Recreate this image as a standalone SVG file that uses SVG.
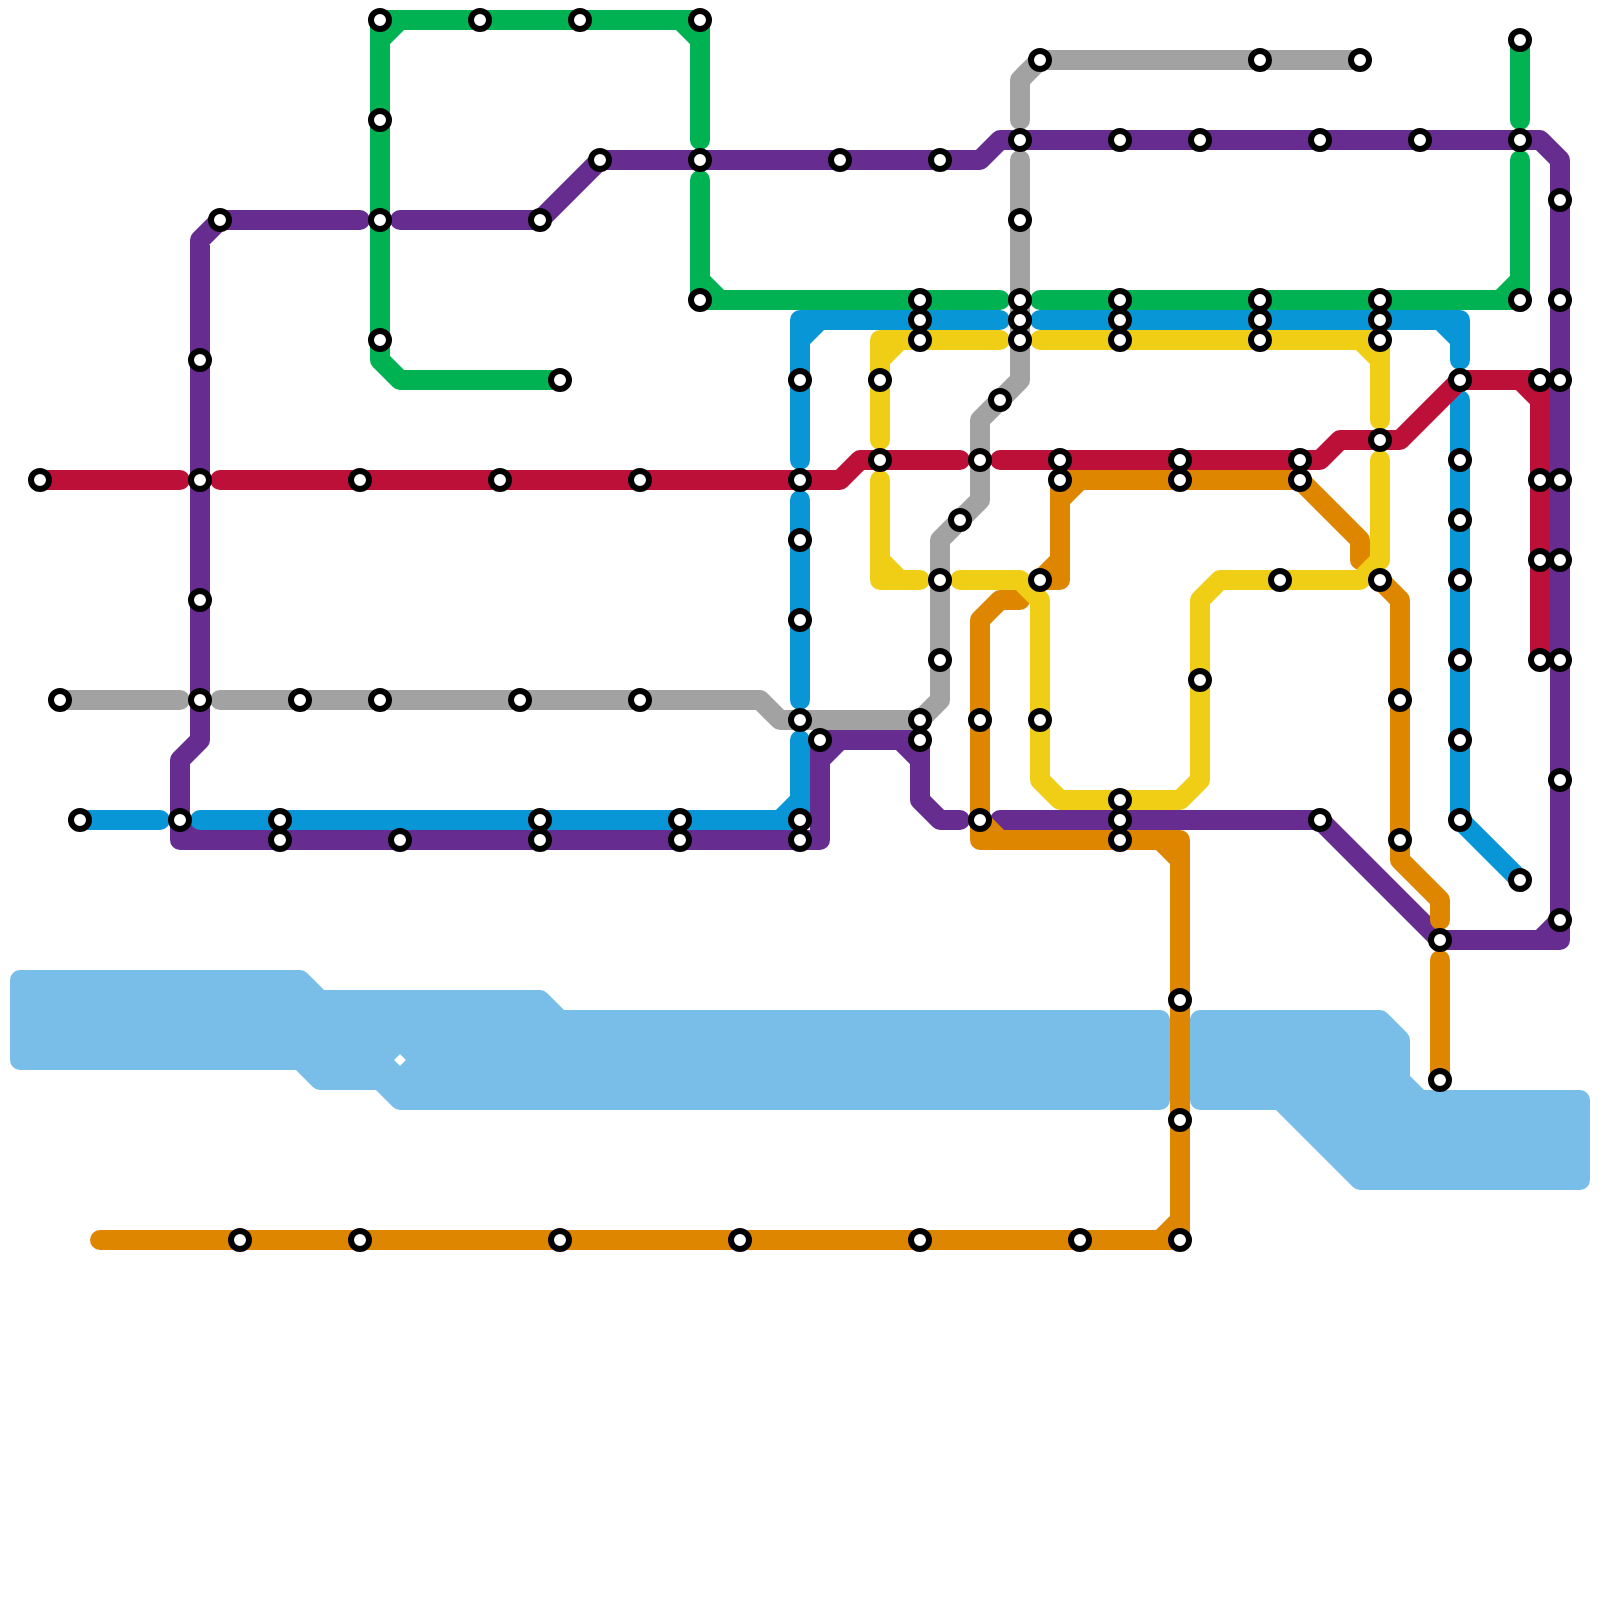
<svg xmlns="http://www.w3.org/2000/svg" width="1600" height="1600" viewBox="0 0 1600 1600">
<style>
.w{fill:#79bde9;stroke:#79bde9;stroke-width:20;stroke-linejoin:round;fill-rule:evenodd}
.l{fill:none;stroke-width:20;stroke-linecap:round;stroke-linejoin:round}
.pu{stroke:#662c90}.or{stroke:#df8600}.bl{stroke:#0896d7}.re{stroke:#bd1038}.ye{stroke:#f0ce15}.gn{stroke:#00b251}.gy{stroke:#a2a2a2}
.s{fill:#fff;stroke:#000;stroke-width:6}
</style>
<rect width="1600" height="1600" fill="#fff"/>
<g id="water">
<path class="w" d="M20,980H300L320,1000H540L560,1020H1160V1100H400L380,1080H320L300,1060H20ZM400,1040L420,1060L400,1080L380,1060Z"/>
<path class="w" d="M1200,1020H1380L1400,1040V1080L1420,1100H1580V1180H1360L1280,1100H1200Z"/>
</g>
<g id="connectors">
<g id="line-purple" class="l pu">
<path d="M360,220H220L200,240V740L180,760V840H820V740H920V800L940,820H960M820,760L840,740M900,740L920,760M180,820L200,840"/>
<path d="M400,220H540L600,160H980L1000,140H1540L1560,160V940H1440L1320,820H1000M1540,940L1560,920"/>
</g>
<g id="line-orange" class="l or">
<path d="M100,1240H1180V840H980V620L1000,600H1020M1160,1240L1180,1220M1160,840L1180,860M980,820L1000,840"/>
<path d="M1300,480H1060V580H1040L1060,560M1060,500L1080,480M1300,480L1360,540V560"/>
<path d="M1380,580L1400,600V860L1440,900V920"/>
<path d="M1440,960V1080"/>
</g>
<g id="line-blue" class="l bl">
<path d="M800,460V320H1000M800,340L820,320"/>
<path d="M1040,320H1460V360M1440,320L1460,340"/>
<path d="M1460,400V820L1520,880"/>
<path d="M800,500V700"/>
<path d="M800,740V820H200M780,820L800,800"/>
<path d="M80,820H160"/>
</g>
<g id="line-red" class="l re">
<path d="M40,480H180"/>
<path d="M220,480H840L860,460H960"/>
<path d="M1000,460H1320L1340,440H1400L1460,380H1540V660M1520,380L1540,400"/>
</g>
<g id="line-yellow" class="l ye">
<path d="M880,440V340H1000M880,360L900,340"/>
<path d="M880,480V580H920M880,560L900,580"/>
<path d="M960,580H1020L1040,600V780L1060,800H1180L1200,780V600L1220,580H1360L1380,560V460"/>
<path d="M1380,420V340H1040M1360,340L1380,360"/>
</g>
<g id="line-green" class="l gn">
<path d="M700,140V20H380V360L400,380H560M380,40L400,20M680,20L700,40"/>
<path d="M700,180V300H1000M700,280L720,300"/>
<path d="M1040,300H1520V160M1500,300L1520,280"/>
<path d="M1520,40V120"/>
</g>
<g id="line-gray" class="l gy">
<path d="M60,700H180"/>
<path d="M220,700H760L780,720H920L940,700V540L960,520L980,500V420L1020,380V160"/>
<path d="M1020,120V80L1040,60H1360"/>
</g>
</g>
<g id="stations">
<g id="s1"><circle class="s" cx="40" cy="480" r="9"/></g>
<g id="s2"><circle class="s" cx="60" cy="700" r="9"/></g>
<g id="s3"><circle class="s" cx="80" cy="820" r="9"/></g>
<g id="s4"><circle class="s" cx="180" cy="820" r="9"/></g>
<g id="s5"><circle class="s" cx="200" cy="360" r="9"/></g>
<g id="s6"><circle class="s" cx="200" cy="480" r="9"/></g>
<g id="s7"><circle class="s" cx="200" cy="600" r="9"/></g>
<g id="s8"><circle class="s" cx="200" cy="700" r="9"/></g>
<g id="s9"><circle class="s" cx="220" cy="220" r="9"/></g>
<g id="s10"><circle class="s" cx="240" cy="1240" r="9"/></g>
<g id="s11"><circle class="s" cx="280" cy="820" r="9"/></g>
<g id="s12"><circle class="s" cx="280" cy="840" r="9"/></g>
<g id="s13"><circle class="s" cx="300" cy="700" r="9"/></g>
<g id="s14"><circle class="s" cx="360" cy="480" r="9"/></g>
<g id="s15"><circle class="s" cx="360" cy="1240" r="9"/></g>
<g id="s16"><circle class="s" cx="380" cy="20" r="9"/></g>
<g id="s17"><circle class="s" cx="380" cy="120" r="9"/></g>
<g id="s18"><circle class="s" cx="380" cy="220" r="9"/></g>
<g id="s19"><circle class="s" cx="380" cy="340" r="9"/></g>
<g id="s20"><circle class="s" cx="380" cy="700" r="9"/></g>
<g id="s21"><circle class="s" cx="400" cy="840" r="9"/></g>
<g id="s22"><circle class="s" cx="480" cy="20" r="9"/></g>
<g id="s23"><circle class="s" cx="500" cy="480" r="9"/></g>
<g id="s24"><circle class="s" cx="520" cy="700" r="9"/></g>
<g id="s25"><circle class="s" cx="540" cy="220" r="9"/></g>
<g id="s26"><circle class="s" cx="540" cy="820" r="9"/></g>
<g id="s27"><circle class="s" cx="540" cy="840" r="9"/></g>
<g id="s28"><circle class="s" cx="560" cy="380" r="9"/></g>
<g id="s29"><circle class="s" cx="560" cy="1240" r="9"/></g>
<g id="s30"><circle class="s" cx="580" cy="20" r="9"/></g>
<g id="s31"><circle class="s" cx="600" cy="160" r="9"/></g>
<g id="s32"><circle class="s" cx="640" cy="480" r="9"/></g>
<g id="s33"><circle class="s" cx="640" cy="700" r="9"/></g>
<g id="s34"><circle class="s" cx="680" cy="820" r="9"/></g>
<g id="s35"><circle class="s" cx="680" cy="840" r="9"/></g>
<g id="s36"><circle class="s" cx="700" cy="20" r="9"/></g>
<g id="s37"><circle class="s" cx="700" cy="160" r="9"/></g>
<g id="s38"><circle class="s" cx="700" cy="300" r="9"/></g>
<g id="s39"><circle class="s" cx="740" cy="1240" r="9"/></g>
<g id="s40"><circle class="s" cx="800" cy="380" r="9"/></g>
<g id="s41"><circle class="s" cx="800" cy="480" r="9"/></g>
<g id="s42"><circle class="s" cx="800" cy="540" r="9"/></g>
<g id="s43"><circle class="s" cx="800" cy="620" r="9"/></g>
<g id="s44"><circle class="s" cx="800" cy="720" r="9"/></g>
<g id="s45"><circle class="s" cx="800" cy="820" r="9"/></g>
<g id="s46"><circle class="s" cx="800" cy="840" r="9"/></g>
<g id="s47"><circle class="s" cx="820" cy="740" r="9"/></g>
<g id="s48"><circle class="s" cx="840" cy="160" r="9"/></g>
<g id="s49"><circle class="s" cx="880" cy="380" r="9"/></g>
<g id="s50"><circle class="s" cx="880" cy="460" r="9"/></g>
<g id="s51"><circle class="s" cx="920" cy="300" r="9"/></g>
<g id="s52"><circle class="s" cx="920" cy="320" r="9"/></g>
<g id="s53"><circle class="s" cx="920" cy="340" r="9"/></g>
<g id="s54"><circle class="s" cx="920" cy="720" r="9"/></g>
<g id="s55"><circle class="s" cx="920" cy="740" r="9"/></g>
<g id="s56"><circle class="s" cx="920" cy="1240" r="9"/></g>
<g id="s57"><circle class="s" cx="940" cy="160" r="9"/></g>
<g id="s58"><circle class="s" cx="940" cy="580" r="9"/></g>
<g id="s59"><circle class="s" cx="940" cy="660" r="9"/></g>
<g id="s60"><circle class="s" cx="960" cy="520" r="9"/></g>
<g id="s61"><circle class="s" cx="980" cy="460" r="9"/></g>
<g id="s62"><circle class="s" cx="980" cy="720" r="9"/></g>
<g id="s63"><circle class="s" cx="980" cy="820" r="9"/></g>
<g id="s64"><circle class="s" cx="1000" cy="400" r="9"/></g>
<g id="s65"><circle class="s" cx="1020" cy="140" r="9"/></g>
<g id="s66"><circle class="s" cx="1020" cy="220" r="9"/></g>
<g id="s67"><circle class="s" cx="1020" cy="300" r="9"/></g>
<g id="s68"><circle class="s" cx="1020" cy="320" r="9"/></g>
<g id="s69"><circle class="s" cx="1020" cy="340" r="9"/></g>
<g id="s70"><circle class="s" cx="1040" cy="60" r="9"/></g>
<g id="s71"><circle class="s" cx="1040" cy="580" r="9"/></g>
<g id="s72"><circle class="s" cx="1040" cy="720" r="9"/></g>
<g id="s73"><circle class="s" cx="1060" cy="460" r="9"/></g>
<g id="s74"><circle class="s" cx="1060" cy="480" r="9"/></g>
<g id="s75"><circle class="s" cx="1080" cy="1240" r="9"/></g>
<g id="s76"><circle class="s" cx="1120" cy="140" r="9"/></g>
<g id="s77"><circle class="s" cx="1120" cy="300" r="9"/></g>
<g id="s78"><circle class="s" cx="1120" cy="320" r="9"/></g>
<g id="s79"><circle class="s" cx="1120" cy="340" r="9"/></g>
<g id="s80"><circle class="s" cx="1120" cy="800" r="9"/></g>
<g id="s81"><circle class="s" cx="1120" cy="820" r="9"/></g>
<g id="s82"><circle class="s" cx="1120" cy="840" r="9"/></g>
<g id="s83"><circle class="s" cx="1180" cy="460" r="9"/></g>
<g id="s84"><circle class="s" cx="1180" cy="480" r="9"/></g>
<g id="s85"><circle class="s" cx="1180" cy="1000" r="9"/></g>
<g id="s86"><circle class="s" cx="1180" cy="1120" r="9"/></g>
<g id="s87"><circle class="s" cx="1180" cy="1240" r="9"/></g>
<g id="s88"><circle class="s" cx="1200" cy="140" r="9"/></g>
<g id="s89"><circle class="s" cx="1200" cy="680" r="9"/></g>
<g id="s90"><circle class="s" cx="1260" cy="60" r="9"/></g>
<g id="s91"><circle class="s" cx="1260" cy="300" r="9"/></g>
<g id="s92"><circle class="s" cx="1260" cy="320" r="9"/></g>
<g id="s93"><circle class="s" cx="1260" cy="340" r="9"/></g>
<g id="s94"><circle class="s" cx="1280" cy="580" r="9"/></g>
<g id="s95"><circle class="s" cx="1300" cy="460" r="9"/></g>
<g id="s96"><circle class="s" cx="1300" cy="480" r="9"/></g>
<g id="s97"><circle class="s" cx="1320" cy="140" r="9"/></g>
<g id="s98"><circle class="s" cx="1320" cy="820" r="9"/></g>
<g id="s99"><circle class="s" cx="1360" cy="60" r="9"/></g>
<g id="s100"><circle class="s" cx="1380" cy="300" r="9"/></g>
<g id="s101"><circle class="s" cx="1380" cy="320" r="9"/></g>
<g id="s102"><circle class="s" cx="1380" cy="340" r="9"/></g>
<g id="s103"><circle class="s" cx="1380" cy="440" r="9"/></g>
<g id="s104"><circle class="s" cx="1380" cy="580" r="9"/></g>
<g id="s105"><circle class="s" cx="1400" cy="700" r="9"/></g>
<g id="s106"><circle class="s" cx="1400" cy="840" r="9"/></g>
<g id="s107"><circle class="s" cx="1420" cy="140" r="9"/></g>
<g id="s108"><circle class="s" cx="1440" cy="940" r="9"/></g>
<g id="s109"><circle class="s" cx="1440" cy="1080" r="9"/></g>
<g id="s110"><circle class="s" cx="1460" cy="380" r="9"/></g>
<g id="s111"><circle class="s" cx="1460" cy="460" r="9"/></g>
<g id="s112"><circle class="s" cx="1460" cy="520" r="9"/></g>
<g id="s113"><circle class="s" cx="1460" cy="580" r="9"/></g>
<g id="s114"><circle class="s" cx="1460" cy="660" r="9"/></g>
<g id="s115"><circle class="s" cx="1460" cy="740" r="9"/></g>
<g id="s116"><circle class="s" cx="1460" cy="820" r="9"/></g>
<g id="s117"><circle class="s" cx="1520" cy="40" r="9"/></g>
<g id="s118"><circle class="s" cx="1520" cy="140" r="9"/></g>
<g id="s119"><circle class="s" cx="1520" cy="300" r="9"/></g>
<g id="s120"><circle class="s" cx="1520" cy="880" r="9"/></g>
<g id="s121"><circle class="s" cx="1540" cy="380" r="9"/></g>
<g id="s122"><circle class="s" cx="1540" cy="480" r="9"/></g>
<g id="s123"><circle class="s" cx="1540" cy="560" r="9"/></g>
<g id="s124"><circle class="s" cx="1540" cy="660" r="9"/></g>
<g id="s125"><circle class="s" cx="1560" cy="200" r="9"/></g>
<g id="s126"><circle class="s" cx="1560" cy="300" r="9"/></g>
<g id="s127"><circle class="s" cx="1560" cy="380" r="9"/></g>
<g id="s128"><circle class="s" cx="1560" cy="480" r="9"/></g>
<g id="s129"><circle class="s" cx="1560" cy="560" r="9"/></g>
<g id="s130"><circle class="s" cx="1560" cy="660" r="9"/></g>
<g id="s131"><circle class="s" cx="1560" cy="780" r="9"/></g>
<g id="s132"><circle class="s" cx="1560" cy="920" r="9"/></g>
</g>
</svg>
